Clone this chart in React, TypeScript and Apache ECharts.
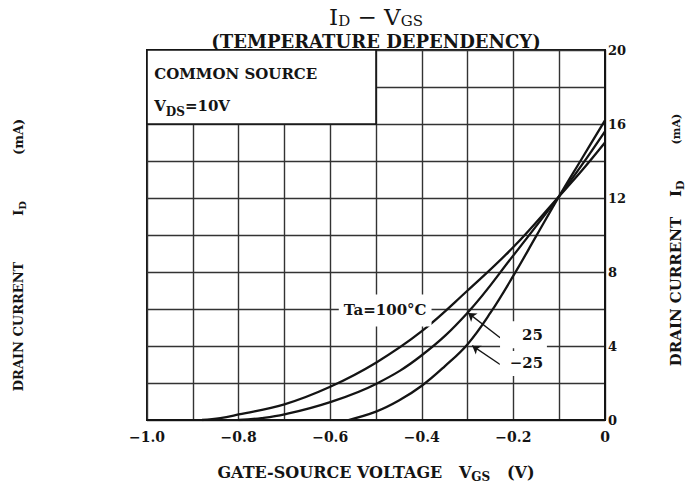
import React, { useEffect, useRef } from 'react';
import * as echarts from 'echarts';

// Gate-source voltage (V) and drain current (mA)
const vgs100 = [-0.88, -0.84, -0.8, -0.7, -0.6, -0.5, -0.4, -0.3, -0.2, -0.1, -0.05, 0];
const id100 = [0, 0.1, 0.3, 0.85, 1.8, 3.1, 4.8, 7.0, 9.35, 12.1, 13.5, 15.0];
const vgs25 = [-0.8, -0.75, -0.7, -0.6, -0.5, -0.4, -0.3, -0.2, -0.1, -0.05, 0];
const id25 = [0, 0.1, 0.3, 0.97, 1.95, 3.5, 5.8, 8.9, 12.1, 13.8, 15.6];
const vgsM25 = [-0.56, -0.5, -0.45, -0.4, -0.35, -0.3, -0.25, -0.2, -0.15, -0.1, -0.05, 0];
const idM25 = [0, 0.45, 1.05, 1.85, 2.9, 4.1, 5.8, 7.8, 9.95, 12.1, 14.15, 16.2];

const seriesNames = ['Ta=100°C', '25', '−25'];
const rightTicks = [0, 4, 8, 12, 16, 20];

const FF = '"DejaVu Serif", "Liberation Serif", serif';
const INK = '#141414';

const pairs = (xs: number[], ys: number[]) => xs.map((x, i) => [x, ys[i]]);

const subRich = (main: number, sub: number, shift: number, weight: string = 'bold') => ({
  t: { fontFamily: FF, fontSize: main, fontWeight: weight, color: INK, fill: INK },
  s: { fontFamily: FF, fontSize: sub, fontWeight: weight, color: INK, fill: INK, padding: [shift, 0, 0, 0] },
});

export default function App() {
  const ref = useRef<HTMLDivElement>(null);
  useEffect(() => {
    const chart = echarts.init(ref.current!, null, { renderer: 'svg' });
    const curveStyle = { color: INK, width: 2.3 };
    const option: any = {
      animation: false,
      backgroundColor: '#fff',
      grid: { left: 147, right: 92, top: 50, bottom: 65, show: true, borderColor: INK, borderWidth: 2 },
      xAxis: {
        type: 'value', min: -1, max: 0, interval: 0.1,
        axisLine: { show: true, lineStyle: { color: INK, width: 2 } },
        axisTick: { show: false },
        splitLine: { show: true, lineStyle: { color: '#333', width: 1.4 } },
        axisLabel: {
          margin: 10, fontFamily: FF, fontSize: 14, fontWeight: 'bold', color: INK,
          formatter: (v: number) => {
            const r = Math.round(v * 10);
            if (r % 2 !== 0) return '';
            if (r === 0) return '0';
            return '−' + Math.abs(r / 10).toFixed(1);
          },
        },
        name: '{t|GATE-SOURCE VOLTAGE   V}{s|GS}{t|   (V)}',
        nameLocation: 'middle', nameGap: 42,
        nameTextStyle: { rich: subRich(16, 12, 9) },
      },
      yAxis: [
        {
          type: 'value', min: 0, max: 20, interval: 2, position: 'left',
          axisLine: { show: true, lineStyle: { color: INK, width: 2 } },
          axisTick: { show: false },
          axisLabel: { show: false },
          splitLine: { show: true, lineStyle: { color: '#333', width: 1.4 } },
        },
        {
          type: 'value', min: 0, max: 20, interval: 2, position: 'right',
          axisLine: { show: true, lineStyle: { color: INK, width: 2 } },
          axisTick: { show: false },
          splitLine: { show: false },
          axisLabel: {
            margin: 3, fontFamily: FF, fontSize: 13, fontWeight: 'bold', color: INK,
            formatter: (v: number) => (rightTicks.indexOf(Math.round(v)) >= 0 ? String(Math.round(v)) : ''),
          },
        },
      ],
      graphic: [
        {
          type: 'text', x: 376, y: 17, silent: true,
          style: {
            text: '{t|I}{s|D}{t| − V}{s|GS}', align: 'center', verticalAlign: 'middle',
            rich: subRich(23, 15, 8, 'normal'),
          },
        },
        {
          type: 'text', x: 376, y: 41, silent: true,
          style: {
            text: '(TEMPERATURE DEPENDENCY)', align: 'center', verticalAlign: 'middle',
            fontFamily: FF, fontSize: 18, fontWeight: 'bold', fill: INK,
          },
        },
        {
          type: 'text', x: 18, y: 255, rotation: Math.PI / 2, silent: true,
          style: {
            text: '{t|DRAIN CURRENT}{g| }{t|I}{s|D}{g| }{t|(mA)}', align: 'center', verticalAlign: 'middle',
            rich: { ...subRich(13, 10, 8), g: { width: 46 } },
          },
        },
        {
          type: 'text', x: 676, y: 240, rotation: Math.PI / 2, silent: true,
          style: {
            text: '{t|DRAIN CURRENT}{g| }{t|I}{s|D}{h| }{m|(mA)}', align: 'center', verticalAlign: 'middle',
            rich: {
              ...subRich(15, 11, 8),
              m: { fontFamily: FF, fontSize: 11, fontWeight: 'bold', fill: INK },
              g: { width: 20 }, h: { width: 36 },
            },
          },
        },
      ],
      series: [
        {
          type: 'line', name: seriesNames[0], data: pairs(vgs100, id100),
          smooth: 0.4, symbol: 'none', lineStyle: curveStyle, z: 3,
          markArea: {
            silent: true,
            itemStyle: { color: '#fff', borderColor: INK, borderWidth: 1.6 },
            label: {
              show: true, position: 'insideTopLeft', distance: 0, padding: [9, 0, 0, 8],
              formatter: '{t|COMMON SOURCE}\n{t|V}{s|DS}{t|=10V}',
              rich: {
                t: { fontFamily: FF, fontSize: 15, fontWeight: 'bold', color: INK, lineHeight: 32 },
                s: { fontFamily: FF, fontSize: 12, fontWeight: 'bold', color: INK, lineHeight: 32, padding: [11, 0, 0, 0] },
              },
            },
            data: [[{ xAxis: -1, yAxis: 20 }, { xAxis: -0.5, yAxis: 16 }]],
          },
          markPoint: {
            silent: true, symbol: 'rect', symbolSize: 1,
            itemStyle: { color: 'rgba(0,0,0,0)' },
            label: {
              show: true, position: 'inside', formatter: '{b}', color: INK,
              fontFamily: FF, fontSize: 15, fontWeight: 'bold', backgroundColor: '#fff',
            },
            data: [
              { name: seriesNames[0], coord: [-0.48, 5.92], label: { padding: [9, 5, 8, 5] } },
              { name: seriesNames[1], coord: [-0.178, 4.61], label: { padding: [11, 4, 1, 22] } },
              { name: seriesNames[2], coord: [-0.178, 3.06], label: { padding: [4, 4, 6, 10] } },
            ],
          },
        },
        {
          type: 'line', name: seriesNames[1], data: pairs(vgs25, id25),
          smooth: 0.4, symbol: 'none', lineStyle: curveStyle, z: 3,
        },
        {
          type: 'line', name: seriesNames[2], data: pairs(vgsM25, idM25),
          smooth: 0.4, symbol: 'none', lineStyle: curveStyle, z: 3,
          markLine: {
            silent: true, symbol: ['none', 'arrow'], symbolSize: 8,
            label: { show: false },
            lineStyle: { color: INK, width: 1.3, type: 'solid' },
            data: [
              [{ coord: [-0.229, 4.45] }, { coord: [-0.299, 5.79] }],
              [{ coord: [-0.229, 3.0] }, { coord: [-0.29, 4.02] }],
            ],
          },
        },
      ],
    };
    chart.setOption(option);
    return () => chart.dispose();
  }, []);
  return (
    <div
      ref={ref}
      style={{ position: 'fixed', left: 0, top: 0, width: 697, height: 488, background: '#fff' }}
    />
  );
}
